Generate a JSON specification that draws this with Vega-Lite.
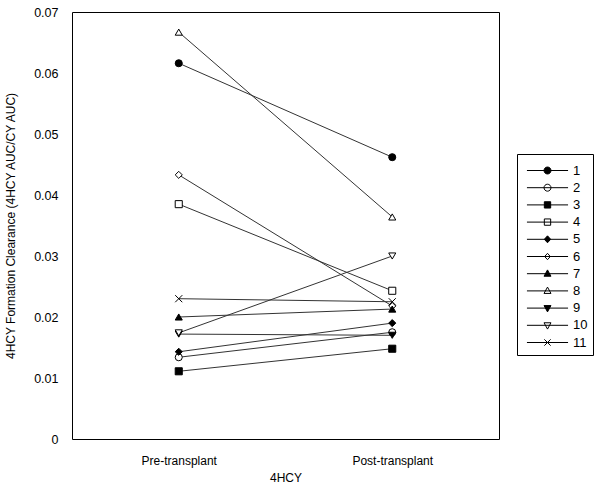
{
  "$schema": "https://vega.github.io/schema/vega-lite/v6.json",
  "width": 427,
  "height": 427,
  "autosize": "none",
  "padding": {"left": 72, "top": 12, "right": 103, "bottom": 50},
  "background": "white",
  "config": {
    "view": {"stroke": "black", "strokeWidth": 1},
    "font": "Liberation Sans",
    "axis": {"grid": false, "ticks": false, "domain": false, "labelFont": "Liberation Sans", "titleFont": "Liberation Sans", "labelColor": "black", "titleColor": "black", "labelFontSize": 12, "titleFontSize": 12, "titleFontWeight": "normal", "labelOverlap": false, "labelFlush": false}
  },
  "data": {
    "values": [
      {"subject": "1", "time": "Pre-transplant", "value": 0.0616},
      {"subject": "1", "time": "Post-transplant", "value": 0.0462},
      {"subject": "2", "time": "Pre-transplant", "value": 0.0134},
      {"subject": "2", "time": "Post-transplant", "value": 0.0175},
      {"subject": "3", "time": "Pre-transplant", "value": 0.0111},
      {"subject": "3", "time": "Post-transplant", "value": 0.0148},
      {"subject": "4", "time": "Pre-transplant", "value": 0.0385},
      {"subject": "4", "time": "Post-transplant", "value": 0.0243},
      {"subject": "5", "time": "Pre-transplant", "value": 0.0143},
      {"subject": "5", "time": "Post-transplant", "value": 0.019},
      {"subject": "6", "time": "Pre-transplant", "value": 0.0433},
      {"subject": "6", "time": "Post-transplant", "value": 0.0218},
      {"subject": "7", "time": "Pre-transplant", "value": 0.02},
      {"subject": "7", "time": "Post-transplant", "value": 0.0213},
      {"subject": "8", "time": "Pre-transplant", "value": 0.0667},
      {"subject": "8", "time": "Post-transplant", "value": 0.0364},
      {"subject": "9", "time": "Pre-transplant", "value": 0.0172},
      {"subject": "9", "time": "Post-transplant", "value": 0.017},
      {"subject": "10", "time": "Pre-transplant", "value": 0.0174},
      {"subject": "10", "time": "Post-transplant", "value": 0.03},
      {"subject": "11", "time": "Pre-transplant", "value": 0.023},
      {"subject": "11", "time": "Post-transplant", "value": 0.0225}
    ]
  },
  "encoding": {
    "x": {"field": "time", "type": "nominal", "scale": {"type": "point", "domain": ["Pre-transplant", "Post-transplant"], "padding": 0.5}, "axis": {"title": "4HCY", "labelAngle": 0, "labelPadding": 16, "titlePadding": 6}},
    "y": {"field": "value", "type": "quantitative", "scale": {"domain": [0, 0.07], "nice": false}, "axis": {"title": "4HCY Formation Clearance (4HCY AUC/CY AUC)", "format": "~g", "values": [0, 0.01, 0.02, 0.03, 0.04, 0.05, 0.06, 0.07], "labelPadding": 14, "titlePadding": 16, "labelFontSize": 12.5}}
  },
  "layer": [
    {
      "mark": {"type": "line", "color": "#333", "strokeWidth": 1},
      "encoding": {"detail": {"field": "subject", "type": "nominal"}}
    },
    {
      "mark": {"type": "point", "stroke": "black", "strokeWidth": 1, "opacity": 1, "size": 50},
      "encoding": {
        "shape": {"field": "subject", "type": "nominal", "legend": null, "scale": {"domain": ["1","2","3","4","5","6","7","8","9","10","11"], "range": ["circle","circle","square","square","diamond","diamond","triangle-up","triangle-up","triangle-down","triangle-down","M-1,-1L1,1M-1,1L1,-1"]}},
        "fill": {"field": "subject", "type": "nominal", "legend": null, "scale": {"domain": ["1","2","3","4","5","6","7","8","9","10","11"], "range": ["black","white","black","white","black","white","black","white","black","white","white"]}}
      }
    },
    {
      "mark": {"type": "point", "strokeWidth": 1, "opacity": 0, "size": 40},
      "encoding": {
        "shape": {"field": "subject", "type": "nominal", "title": " ", "scale": {"domain": ["1","2","3","4","5","6","7","8","9","10","11"], "range": [
          "M-6.5,0H6.5M-1.1,0A1.1,1.1 0 1,0 1.1,0A1.1,1.1 0 1,0 -1.1,0Z",
          "M-6.5,0H6.5M-1.1,0A1.1,1.1 0 1,0 1.1,0A1.1,1.1 0 1,0 -1.1,0Z",
          "M-6.5,0H6.5M-1,-1H1V1H-1Z",
          "M-6.5,0H6.5M-1,-1H1V1H-1Z",
          "M-6.5,0H6.5M0,-1.1L1,0L0,1.1L-1,0Z",
          "M-6.5,0H6.5M0,-1L0.9,0L0,1L-0.9,0Z",
          "M-6.5,0H6.5M0,-1.2L1.1,0.8H-1.1Z",
          "M-6.5,0H6.5M0,-1.2L1.1,0.8H-1.1Z",
          "M-6.5,0H6.5M0,1.2L1.1,-0.8H-1.1Z",
          "M-6.5,0H6.5M0,1.2L1.1,-0.8H-1.1Z",
          "M-6.5,0H6.5M-1,-1L1,1M-1,1L1,-1"
        ]}, "legend": {"orient": "none", "legendX": 445, "legendY": 142, "strokeColor": "black", "fillColor": "white", "padding": 5, "titleFontSize": 4, "titlePadding": 1, "symbolOffset": 19, "symbolOpacity": 1, "symbolStrokeWidth": 1, "symbolSize": 40, "labelFontSize": 13, "labelFont": "Liberation Sans", "labelColor": "black", "labelOffset": 19, "rowPadding": 3.2}},
        "fill": {"field": "subject", "type": "nominal", "title": " ", "scale": {"domain": ["1","2","3","4","5","6","7","8","9","10","11"], "range": ["black","white","black","white","black","white","black","white","black","white","white"]}},
        "stroke": {"field": "subject", "type": "nominal", "title": " ", "scale": {"domain": ["1","2","3","4","5","6","7","8","9","10","11"], "range": ["black","black","black","black","black","black","black","black","black","black","black"]}}
      }
    }
  ],
  "resolve": {"scale": {"shape": "independent", "fill": "independent", "stroke": "independent"}, "legend": {"shape": "independent", "fill": "independent", "stroke": "independent"}}
}
